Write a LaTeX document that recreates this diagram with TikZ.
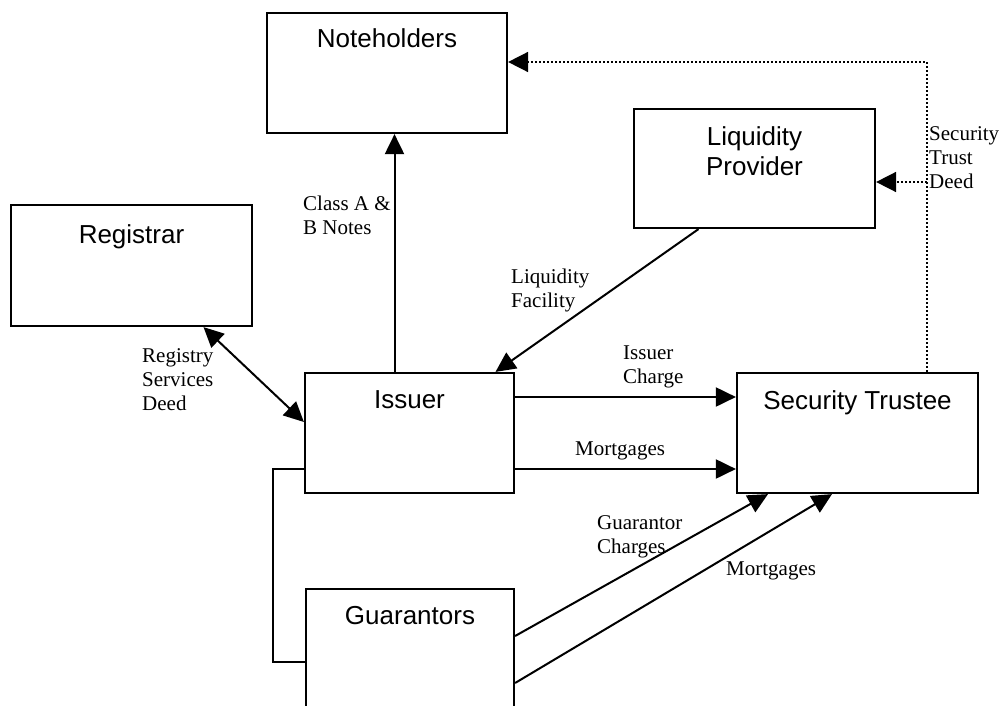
\documentclass[tikz,border=0pt]{standalone}
\usepackage{fontspec}
\setmainfont{Liberation Serif}
\newfontfamily\arialfont{Liberation Sans}
\usetikzlibrary{arrows.meta}
\begin{document}
\begin{tikzpicture}[x=1pt,y=-1pt,
  box/.style={draw, line width=2.2pt, fill=white, inner sep=0pt},
  boxtext/.style={anchor=north, yshift=-19pt, inner sep=0pt, align=center, font=\arialfont\fontsize{26}{30}\selectfont},
  lbl/.style={anchor=north west, inner sep=0pt, align=left, font=\fontsize{21}{24}\selectfont},
  arr/.style={line width=2pt, -{Triangle[length=20pt,width=19pt]}},
  darr/.style={line width=2pt, {Triangle[length=20pt,width=19pt]}-{Triangle[length=20pt,width=19pt]}},
  plain/.style={line width=2pt},
  dotarr/.style={line width=1.6pt, dash pattern=on 1.6pt off 2.4pt, -{Triangle[length=20pt,width=20pt]}},
  dotline/.style={line width=1.6pt, dash pattern=on 1.6pt off 2.4pt}]
\clip (0,0) rectangle (1006,706);
\fill[white] (0,0) rectangle (1006,706);

% boxes
\node[box, minimum width=240pt, minimum height=120pt,
      label={[boxtext, yshift=2pt]north:Noteholders}] (nh) at (387,73) {};
\node[box, minimum width=241pt, minimum height=119pt,
      label={[boxtext]north:Liquidity\\Provider}] (lp) at (754.5,168.5) {};
\node[box, minimum width=241pt, minimum height=121pt,
      label={[boxtext, yshift=-2pt]north:Registrar}] (reg) at (131.5,265.5) {};
\node[box, minimum width=209pt, minimum height=120pt,
      label={[boxtext]north:Issuer}] (iss) at (409.5,433) {};
\node[box, minimum width=241pt, minimum height=120pt,
      label={[boxtext]north:Security Trustee}] (st) at (857.5,433) {};
\node[box, minimum width=208pt, minimum height=120pt,
      label={[boxtext, yshift=1pt]north:Guarantors}] (gu) at (410,649) {};

% connectors
\draw[arr] ([xshift=-15pt]iss.north) -- ([xshift=-15pt]iss.north |- nh.south);
\draw[arr] ([xshift=-56pt]lp.south) -- ([xshift=86pt]iss.north);
\draw[darr] ([xshift=72pt]reg.south) -- ([yshift=11pt]iss.west);
\draw[arr] ([yshift=36pt]iss.east) -- ([yshift=36pt]iss.east -| st.west);
\draw[arr] ([yshift=-36pt]iss.east) -- ([yshift=-36pt]iss.east -| st.west);
\draw[arr] ([yshift=13pt]gu.east) -- ([xshift=-89.5pt]st.south);
\draw[arr] ([yshift=-34pt]gu.east) -- ([xshift=-25.5pt]st.south);
\draw[plain] ([yshift=-36pt]iss.west) -- ++(-31,0) |- ([yshift=-13pt]gu.west);

\coordinate (dv) at ([xshift=69.5pt]st.north);
\draw[dotarr] (dv) |- ([yshift=11pt]nh.east);
\draw[dotarr] ([yshift=-13.5pt]lp.east -| dv) -- ([yshift=-13.5pt]lp.east);

% labels
\node[lbl] (lcl) at (303,196) {Class A \&\\B Notes};
\node[lbl] (llf) at (511,269) {Liquidity\\Facility};
\node[lbl] (lrs) at (142,348) {Registry\\Services\\Deed};
\node[lbl] (lic) at (623,346) {Issuer\\Charge};
\node[lbl] (lim) at (575,442) {Mortgages};
\node[lbl] (lgc) at (597,515) {Guarantor\\Charges};
\node[lbl] (lgm) at (726,562) {Mortgages};
\node[lbl] (lstd) at (929,126) {Security\\Trust\\Deed};
\end{tikzpicture}
\end{document}
